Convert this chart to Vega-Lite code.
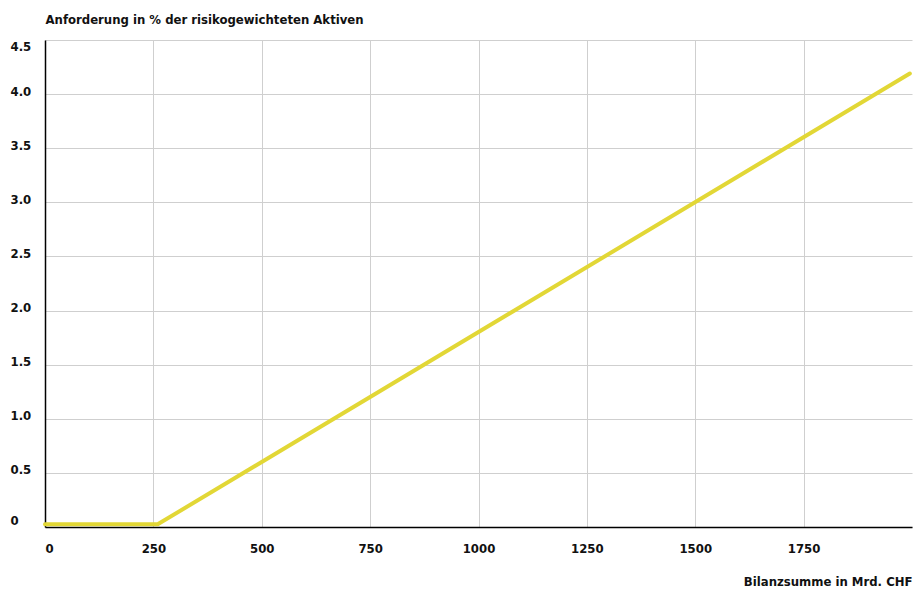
{
  "$schema": "https://vega.github.io/schema/vega-lite/v6.json",
  "width": 867,
  "height": 487,
  "autosize": {"type": "none"},
  "padding": {"left": 45, "top": 40, "right": 2, "bottom": 65},
  "background": "white",
  "config": {
    "view": {"stroke": null},
    "font": "DejaVu Sans Condensed",
    "axis": {"labelFont": "DejaVu Sans Condensed", "titleFont": "DejaVu Sans Condensed"}
  },
  "data": {
    "values": [
      {"bilanz": 0, "anforderung": 0.025},
      {"bilanz": 260, "anforderung": 0.025},
      {"bilanz": 1995, "anforderung": 4.19}
    ]
  },
  "mark": {"type": "line", "color": "#e2d736", "strokeWidth": 4, "strokeCap": "round", "strokeJoin": "miter", "clip": false},
  "encoding": {
    "x": {
      "field": "bilanz",
      "type": "quantitative",
      "scale": {"domain": [0, 2000], "nice": false, "zero": true},
      "axis": {
        "values": [0, 250, 500, 750, 1000, 1250, 1500, 1750],
        "format": "d",
        "title": "Bilanzsumme in Mrd. CHF",
        "titleAnchor": "end",
        "titleAlign": "right",
        "titleFontSize": 13,
        "titleFontWeight": "bold",
        "titleColor": "#111",
        "titlePadding": 20,
        "labelFontSize": 13,
        "labelFontWeight": "bold",
        "labelColor": "#111",
        "labelFlush": true,
        "labelPadding": 15,
        "ticks": false,
        "domainColor": "#000",
        "domainWidth": 1.5,
        "grid": true,
        "gridColor": "#cfcfcf",
        "gridWidth": 1
      }
    },
    "y": {
      "field": "anforderung",
      "type": "quantitative",
      "scale": {"domain": [0, 4.5], "nice": false},
      "axis": {
        "values": [0, 0.5, 1, 1.5, 2, 2.5, 3, 3.5, 4, 4.5],
        "labelExpr": "datum.value == 0 ? '0' : format(datum.value, '.1f')",
        "title": "Anforderung in % der risikogewichteten Aktiven",
        "titleAngle": 0,
        "titleAlign": "left",
        "titleBaseline": "middle",
        "titleX": 0,
        "titleY": -21,
        "titleFontSize": 13,
        "titleFontWeight": "bold",
        "titleColor": "#111",
        "labelFontSize": 13,
        "labelFontWeight": "bold",
        "labelColor": "#111",
        "labelAlign": "left",
        "labelPadding": 35,
        "labelOffset": {"condition": {"test": "datum.value == 0 || datum.value == 4.5", "value": 0}, "value": -3},
        "labelFlush": true,
        "ticks": false,
        "domainColor": "#000",
        "domainWidth": 1.5,
        "grid": true,
        "gridColor": "#cfcfcf",
        "gridWidth": 1
      }
    }
  }
}
